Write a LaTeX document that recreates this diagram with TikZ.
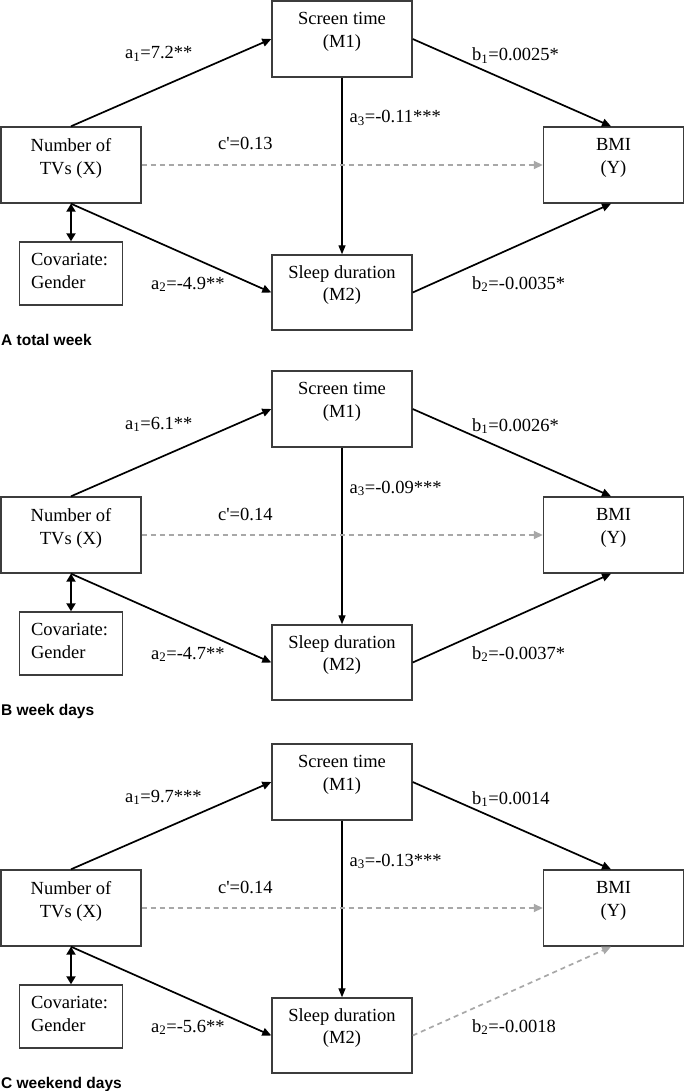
\documentclass[tikz,border=0pt]{standalone}
\usepackage{fontspec}
\setmainfont{Liberation Serif}
\newfontfamily\panelsans{Liberation Sans}
\usetikzlibrary{arrows.meta,calc}
\definecolor{boxgray}{RGB}{60,60,60}
\definecolor{dashgray}{RGB}{168,168,168}
\tikzset{
  box/.style={draw=boxgray, line width=1.4pt, rectangle, inner sep=0pt},
  boxtxt/.style={inner sep=0pt, align=center, anchor=north, font=\fontsize{18.5}{22.5}\selectfont},
  lab/.style={inner sep=0pt, anchor=base west, font=\fontsize{18.5}{22.5}\selectfont},
  solidarrow/.style={draw=black, line width=1.7pt, -{Triangle[length=9pt,width=8pt]}},
  dasharrow/.style={draw=dashgray, line width=1.7pt, dash pattern=on 5pt off 4pt, -{Triangle[length=9pt,width=8pt]}},
  vertarrow/.style={draw=black, line width=1.3pt, -{Triangle[length=9pt,width=7pt]}},
  dblarrow/.style={draw=black, line width=2.4pt, {Triangle[length=8pt,width=9pt]}-{Triangle[length=8pt,width=9pt]}},
  paneltitle/.style={inner sep=0pt, anchor=base west, font=\panelsans\bfseries\fontsize{15.5}{18}\selectfont},
  btwo/.style={solidarrow},
}
% #1 prefix, #2 offset, #3 a1, #4 b1, #5 a3, #6 c', #7 a2, #8 b2, #9 title
\newcommand\mypanel[9]{%
  \begin{scope}[yshift=-#2pt]
    \node[box, minimum width=140pt, minimum height=76pt] (#1M1) at (342,39) {};
    \node[box, minimum width=140pt, minimum height=76pt] (#1X) at (71,165) {};
    \node[box, minimum width=140pt, minimum height=76pt] (#1Y) at (613.5,165) {};
    \node[box, minimum width=103pt, minimum height=63pt] (#1C) at (71,273.5) {};
    \node[box, minimum width=140pt, minimum height=75pt] (#1M2) at (342,292.5) {};
    \node[boxtxt] (#1M1t) at ($(#1M1.north)+(0,12)$) {Screen time\\(M1)};
    \node[boxtxt] (#1Xt) at ($(#1X.north)+(0,12)$) {Number of\\TVs (X)};
    \node[boxtxt] (#1Yt) at ($(#1Y.north)+(0,12)$) {BMI\\(Y)};
    \node[boxtxt, anchor=north west, align=left] (#1Ct) at ($(#1C.north west)+(12,12)$) {Covariate:\\Gender};
    \node[boxtxt] (#1M2t) at ($(#1M2.north)+(0,11)$) {Sleep duration\\(M2)};
    \draw[solidarrow] (#1X.north) -- (#1M1.west);
    \draw[solidarrow] (#1M1.east) -- ([xshift=-2.5pt]#1Y.north);
    \draw[vertarrow] (#1M1.south) -- (#1M2.north);
    \draw[dasharrow] (#1X.east) -- (#1Y.west);
    \draw[solidarrow] (#1X.south) -- (#1M2.west);
    \draw[btwo] (#1M2.east) -- ([xshift=-2.5pt]#1Y.south);
    \draw[dblarrow] (#1X.south) -- (#1C.north);
    \node[lab] (#1la1) at (125,59) {a\textsubscript{1}=#3};
    \node[lab] (#1lb1) at (472,61) {b\textsubscript{1}=#4};
    \node[lab] (#1la3) at (349.5,123) {a\textsubscript{3}=#5};
    \node[lab] (#1lc) at (218,150) {c\textquotesingle=#6};
    \node[lab] (#1la2) at (151,289) {a\textsubscript{2}=#7};
    \node[lab] (#1lb2) at (472,289) {b\textsubscript{2}=#8};
    \node[paneltitle] (#1title) at (1,345) {#9};
  \end{scope}}
\begin{document}
\begin{tikzpicture}[x=1pt,y=-1pt]
  \useasboundingbox (0,0) rectangle (685,1091);
  \mypanel{A}{0}{7.2**}{0.0025*}{-0.11***}{0.13}{-4.9**}{-0.0035*}{A total week}
  \mypanel{B}{370}{6.1**}{0.0026*}{-0.09***}{0.14}{-4.7**}{-0.0037*}{B week days}
  \tikzset{btwo/.style={dasharrow}}
  \mypanel{C}{743}{9.7***}{0.0014}{-0.13***}{0.14}{-5.6**}{-0.0018}{C weekend days}
\end{tikzpicture}
\end{document}
